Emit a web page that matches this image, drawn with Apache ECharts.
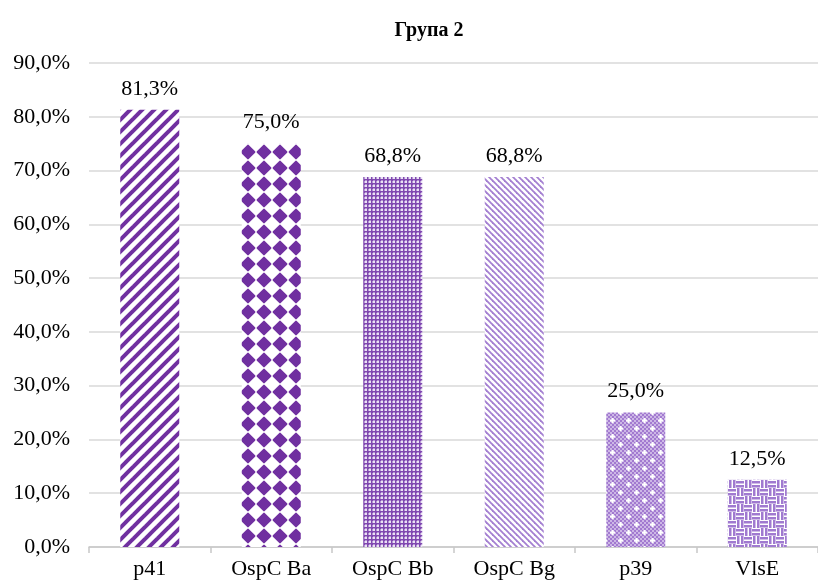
<!DOCTYPE html>
<html>
<head>
<meta charset="utf-8">
<script src="https://cdn.jsdelivr.net/npm/echarts@6/dist/echarts.min.js"></script>
<style>
  html, body { margin: 0; padding: 0; background: #fff; }
  #chart { width: 818px; height: 583px; }
</style>
</head>
<body>
<div id="chart"></div>
<script>
// Antibody reactivity by antigen, group 2 (percent of positive samples)
const categories = ['p41', 'OspC Ba', 'OspC Bb', 'OspC Bg', 'p39', 'VlsE'];
const values = [81.3, 75.0, 68.8, 68.8, 25.0, 12.5];
const yTicks = { min: 0, max: 90, step: 10 };

const PURPLE = '#7030A0';
const LIGHT = '#a07ad0';

function tile(w, h, draw) {
  const c = document.createElement('canvas');
  c.width = w; c.height = h;
  const g = c.getContext('2d');
  g.fillStyle = '#fff';
  g.fillRect(0, 0, w, h);
  draw(g, w, h);
  return { image: c, repeat: 'repeat' };
}

// wide upward diagonal stripes
const pWideUp = tile(12, 12, (g, w, h) => {
  g.strokeStyle = PURPLE; g.lineWidth = 4;
  for (let k = -1; k <= 1; k++) {
    g.beginPath(); g.moveTo(k * w - 2, h + 2); g.lineTo(k * w + w + 2, -2); g.stroke();
  }
});

// diamond grid
const pDiamond = tile(16, 16, (g) => {
  g.fillStyle = PURPLE;
  g.strokeStyle = PURPLE;
  g.lineJoin = 'round';
  g.lineWidth = 2;
  g.beginPath();
  g.moveTo(8, 1.6); g.lineTo(14.4, 8); g.lineTo(8, 14.4); g.lineTo(1.6, 8);
  g.closePath(); g.fill(); g.stroke();
});

// dense dotted grid
const pDense = tile(4, 4, (g) => {
  g.fillStyle = '#8048b0'; g.fillRect(0, 0, 4, 4);
  g.fillStyle = '#ece2f5'; g.fillRect(1, 1, 2, 2);
  g.fillStyle = '#b496d3'; g.fillRect(1, 0, 2, 1); g.fillRect(0, 1, 1, 2);
});

// light thin downward diagonal stripes
const pLightDown = tile(6, 6, (g, w, h) => {
  g.strokeStyle = '#a47fd1'; g.lineWidth = 1.8;
  for (let k = -1; k <= 1; k++) {
    g.beginPath(); g.moveTo(k * w - 1, -1); g.lineTo(k * w + w + 1, h + 1); g.stroke();
  }
});

// small checker with white crosses
const pCheckCross = tile(16, 16, (g) => {
  for (let y = 0; y < 16; y += 2) {
    for (let x = 0; x < 16; x += 2) {
      g.fillStyle = ((x + y) / 2) % 2 === 0 ? '#a27ad0' : '#cdb7e6';
      g.fillRect(x, y, 2, 2);
    }
  }
  g.fillStyle = '#fff';
  [[4, 4], [12, 12]].forEach(([cx, cy]) => {
    g.fillRect(cx - 2, cy - 0.5, 5, 2);
    g.fillRect(cx - 0.5, cy - 2, 2, 5);
  });
});

// weave
const pWeave = tile(16, 16, (g) => {
  g.fillStyle = LIGHT;
  // horizontal strokes in top-left and bottom-right quadrants
  g.fillRect(0, 1, 8, 2.5); g.fillRect(0, 5, 8, 2.5);
  g.fillRect(8, 9, 8, 2.5); g.fillRect(8, 13, 8, 2.5);
  // vertical strokes in top-right and bottom-left quadrants
  g.fillRect(9, 0, 2.5, 8); g.fillRect(13, 0, 2.5, 8);
  g.fillRect(1, 8, 2.5, 8); g.fillRect(5, 8, 2.5, 8);
});

const patterns = [pWideUp, pDiamond, pDense, pLightDown, pCheckCross, pWeave];

const FONT = '"Liberation Serif", "Times New Roman", serif';
const chart = echarts.init(document.getElementById('chart'), null, { renderer: 'canvas' });

chart.setOption({
  animation: false,
  backgroundColor: '#fff',
  title: {
    text: 'Група 2',
    left: 424,
    top: 16,
    textAlign: 'center',
    textStyle: { fontFamily: FONT, fontSize: 20, fontWeight: 'bold', color: '#000' }
  },
  grid: { left: 89, right: -12, top: 63, bottom: 36, containLabel: false },
  xAxis: {
    type: 'category',
    data: categories,
    axisLine: { lineStyle: { color: '#c8c8c8', width: 1.5 } },
    axisTick: { show: true, alignWithLabel: false, length: 6, lineStyle: { color: '#c8c8c8', width: 1.5 } },
    axisLabel: { fontFamily: FONT, fontSize: 22, color: '#000', margin: 11, interval: 0 }
  },
  yAxis: {
    type: 'value',
    min: yTicks.min,
    max: yTicks.max,
    interval: yTicks.step,
    axisLine: { show: false },
    axisTick: { show: false },
    splitLine: { lineStyle: { color: '#d9d9d9', width: 1.5 } },
    axisLabel: {
      fontFamily: FONT, fontSize: 22, color: '#000', margin: 19,
      formatter: v => v.toFixed(1).replace('.', ',') + '%'
    }
  },
  series: [{
    type: 'bar',
    barWidth: 59,
    data: values.map((v, i) => ({ value: v, itemStyle: { color: patterns[i] } })),
    label: {
      show: true,
      position: 'top',
      distance: 10,
      fontFamily: FONT, fontSize: 22, color: '#000',
      formatter: p => p.value.toFixed(1).replace('.', ',') + '%'
    }
  }]
});
</script>
</body>
</html>
